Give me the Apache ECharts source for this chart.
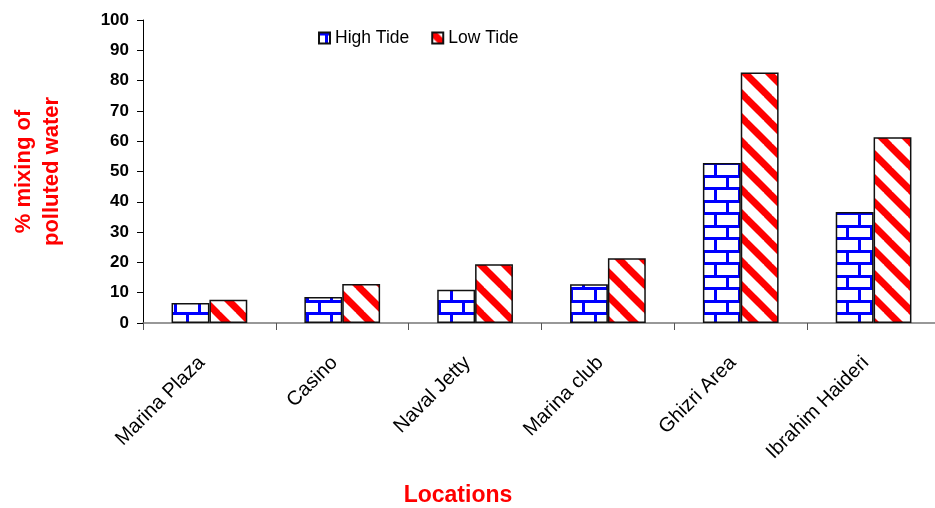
<!DOCTYPE html>
<html><head><meta charset="utf-8">
<script src="https://cdn.jsdelivr.net/npm/echarts@6/dist/echarts.min.js"></script>
<style>html,body{margin:0;padding:0;background:#fff}#c{width:935px;height:508px}</style>
</head><body><div id="c"></div>
<script>
const categories = ['Marina Plaza', 'Casino', 'Naval Jetty', 'Marina club', 'Ghizri Area', 'Ibrahim Haideri'];
const highTide = [6.6, 8.6, 11.0, 12.8, 52.8, 36.6];
const lowTide = [7.7, 12.9, 19.4, 21.4, 82.7, 61.3];
const yTicks = [0, 10, 20, 30, 40, 50, 60, 70, 80, 90, 100];

function brick() {
  const c = document.createElement('canvas');
  c.width = 24; c.height = 25;
  const g = c.getContext('2d');
  g.fillStyle = '#fff'; g.fillRect(0, 0, 24, 25);
  g.fillStyle = '#0000ff';
  g.fillRect(0, 0, 24, 3);
  g.fillRect(0, 12, 24, 3);
  g.fillRect(6, 3, 3, 9);
  g.fillRect(18, 15, 3, 10);
  return c;
}
function stripes() {
  const s = 24;
  const c = document.createElement('canvas');
  c.width = s; c.height = s;
  const g = c.getContext('2d');
  g.fillStyle = '#fff'; g.fillRect(0, 0, s, s);
  g.strokeStyle = '#ff0000';
  g.lineWidth = 7;
  for (let k = -1; k <= 1; k++) {
    g.beginPath();
    g.moveTo(k * s - 2, -2);
    g.lineTo(k * s + s + 2, s + 2);
    g.stroke();
  }
  return c;
}

const chart = echarts.init(document.getElementById('c'));
chart.setOption({
  animation: false,
  textStyle: { fontFamily: 'Liberation Sans, Arial, sans-serif' },
  title: {
    text: 'Locations', left: 453, top: 479, textAlign: 'center',
    textStyle: { color: '#ff0000', fontSize: 23, fontWeight: 'bold' }
  },
  legend: {
    top: 24, left: 313, icon: 'rect',
    itemWidth: 11, itemHeight: 11, itemGap: 22,
    textStyle: { fontSize: 17.5, color: '#000' },
    data: ['High Tide', 'Low Tide']
  },
  grid: { left: 143, top: 20, width: 797, height: 303, containLabel: false, outerBoundsMode: 'none' },
  xAxis: {
    type: 'category', data: categories,
    axisLine: { lineStyle: { color: '#777', width: 1.5 } },
    axisTick: { show: true, length: 7, lineStyle: { color: '#555' } },
    axisLabel: { rotate: 45, fontSize: 20, color: '#000', margin: 29, padding: [0, 11, 0, 0] }
  },
  yAxis: {
    type: 'value', min: 0, max: 100, interval: 10,
    name: '% mixing of\npolluted water', nameLocation: 'middle', nameGap: 77,
    nameTextStyle: { color: '#ff0000', fontSize: 22, fontWeight: 'bold', lineHeight: 28 },
    axisLine: { show: true, lineStyle: { color: '#000' } },
    axisTick: { show: true, length: 6, lineStyle: { color: '#000' } },
    splitLine: { show: false },
    axisLabel: { fontSize: 17, fontWeight: 'bold', color: '#000', margin: 14,
      formatter: v => yTicks.includes(v) ? String(v) : '' }
  },
  series: [
    { name: 'High Tide', type: 'bar', data: highTide, barGap: '0%', barCategoryGap: '43%',
      itemStyle: { color: { image: brick(), repeat: 'repeat' }, borderColor: '#111', borderWidth: 1.5 } },
    { name: 'Low Tide', type: 'bar', data: lowTide,
      itemStyle: { color: { image: stripes(), repeat: 'repeat' }, borderColor: '#111', borderWidth: 1.5 } }
  ]
});
</script></body></html>
